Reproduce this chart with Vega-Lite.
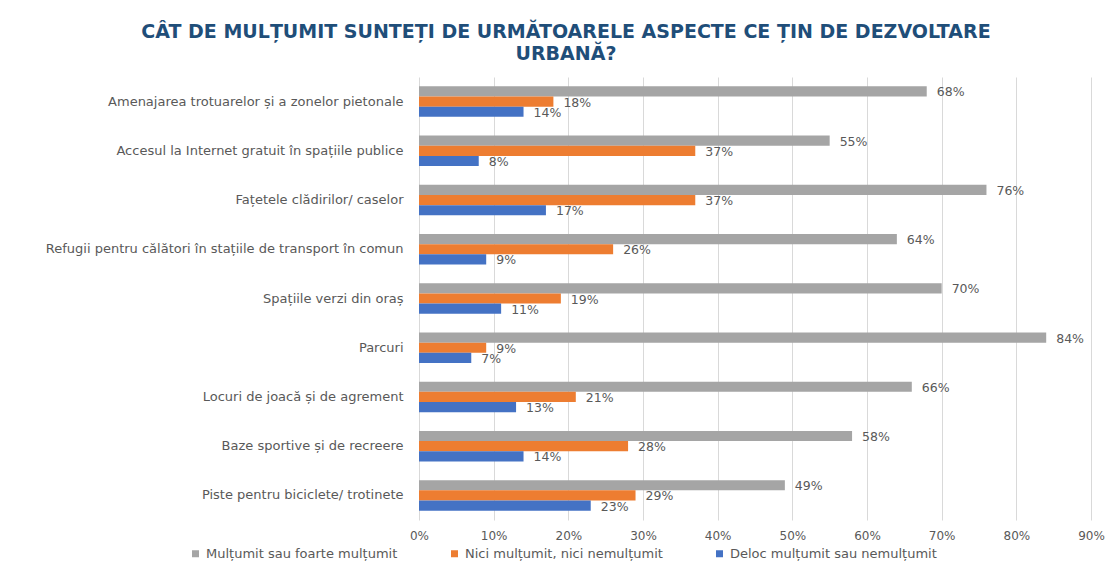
{
  "$schema": "https://vega.github.io/schema/vega-lite/v6.json",
  "autosize": {"type": "none"},
  "width": 672,
  "height": 443,
  "padding": {"left": 419, "top": 77, "right": 18, "bottom": 49},
  "background": "white",
  "config": {
    "view": {"stroke": null},
    "font": "DejaVu Sans"
  },
  "title": {
    "text": ["CÂT DE MULȚUMIT SUNTEȚI DE URMĂTOARELE ASPECTE CE ȚIN DE DEZVOLTARE", "URBANĂ?"],
    "anchor": "middle",
    "frame": "group",
    "dx": -189,
    "offset": 13,
    "fontSize": 19,
    "font": "DejaVu Sans",
    "fontWeight": "bold",
    "color": "#1F4E79",
    "lineHeight": 22
  },
  "data": {
    "values": [
      {"aspect": "Amenajarea trotuarelor și a zonelor pietonale", "series": "Mulțumit sau foarte mulțumit", "value": 0.68},
      {"aspect": "Amenajarea trotuarelor și a zonelor pietonale", "series": "Nici mulțumit, nici nemulțumit", "value": 0.18},
      {"aspect": "Amenajarea trotuarelor și a zonelor pietonale", "series": "Deloc mulțumit sau nemulțumit", "value": 0.14},
      {"aspect": "Accesul la Internet gratuit în spațiile publice", "series": "Mulțumit sau foarte mulțumit", "value": 0.55},
      {"aspect": "Accesul la Internet gratuit în spațiile publice", "series": "Nici mulțumit, nici nemulțumit", "value": 0.37},
      {"aspect": "Accesul la Internet gratuit în spațiile publice", "series": "Deloc mulțumit sau nemulțumit", "value": 0.08},
      {"aspect": "Fațetele clădirilor/ caselor", "series": "Mulțumit sau foarte mulțumit", "value": 0.76},
      {"aspect": "Fațetele clădirilor/ caselor", "series": "Nici mulțumit, nici nemulțumit", "value": 0.37},
      {"aspect": "Fațetele clădirilor/ caselor", "series": "Deloc mulțumit sau nemulțumit", "value": 0.17},
      {"aspect": "Refugii pentru călători în stațiile de transport în comun", "series": "Mulțumit sau foarte mulțumit", "value": 0.64},
      {"aspect": "Refugii pentru călători în stațiile de transport în comun", "series": "Nici mulțumit, nici nemulțumit", "value": 0.26},
      {"aspect": "Refugii pentru călători în stațiile de transport în comun", "series": "Deloc mulțumit sau nemulțumit", "value": 0.09},
      {"aspect": "Spațiile verzi din oraș", "series": "Mulțumit sau foarte mulțumit", "value": 0.70},
      {"aspect": "Spațiile verzi din oraș", "series": "Nici mulțumit, nici nemulțumit", "value": 0.19},
      {"aspect": "Spațiile verzi din oraș", "series": "Deloc mulțumit sau nemulțumit", "value": 0.11},
      {"aspect": "Parcuri", "series": "Mulțumit sau foarte mulțumit", "value": 0.84},
      {"aspect": "Parcuri", "series": "Nici mulțumit, nici nemulțumit", "value": 0.09},
      {"aspect": "Parcuri", "series": "Deloc mulțumit sau nemulțumit", "value": 0.07},
      {"aspect": "Locuri de joacă și de agrement", "series": "Mulțumit sau foarte mulțumit", "value": 0.66},
      {"aspect": "Locuri de joacă și de agrement", "series": "Nici mulțumit, nici nemulțumit", "value": 0.21},
      {"aspect": "Locuri de joacă și de agrement", "series": "Deloc mulțumit sau nemulțumit", "value": 0.13},
      {"aspect": "Baze sportive și de recreere", "series": "Mulțumit sau foarte mulțumit", "value": 0.58},
      {"aspect": "Baze sportive și de recreere", "series": "Nici mulțumit, nici nemulțumit", "value": 0.28},
      {"aspect": "Baze sportive și de recreere", "series": "Deloc mulțumit sau nemulțumit", "value": 0.14},
      {"aspect": "Piste pentru biciclete/ trotinete", "series": "Mulțumit sau foarte mulțumit", "value": 0.49},
      {"aspect": "Piste pentru biciclete/ trotinete", "series": "Nici mulțumit, nici nemulțumit", "value": 0.29},
      {"aspect": "Piste pentru biciclete/ trotinete", "series": "Deloc mulțumit sau nemulțumit", "value": 0.23}
    ]
  },
  "encoding": {
    "y": {
      "field": "aspect",
      "type": "nominal",
      "sort": null,
      "title": null,
      "scale": {"paddingInner": 0.38, "paddingOuter": 0.19},
      "axis": {
        "domain": false,
        "ticks": false,
        "labelPadding": 16,
        "labelFontSize": 13,
        "labelColor": "#595959",
        "labelFont": "DejaVu Sans",
        "labelLimit": 420
      }
    },
    "yOffset": {
      "field": "series",
      "type": "nominal",
      "sort": ["Mulțumit sau foarte mulțumit", "Nici mulțumit, nici nemulțumit", "Deloc mulțumit sau nemulțumit"]
    },
    "x": {
      "field": "value",
      "type": "quantitative",
      "title": null,
      "scale": {"domain": [0, 0.9], "nice": false},
      "axis": {
        "format": ".0%",
        "values": [0, 0.1, 0.2, 0.3, 0.4, 0.5, 0.6, 0.7, 0.8, 0.9],
        "labelOverlap": false,
        "labelFlush": false,
        "domain": false,
        "ticks": false,
        "grid": true,
        "gridColor": "#D9D9D9",
        "gridWidth": 1,
        "labelPadding": 10,
        "labelFontSize": 12,
        "labelColor": "#595959",
        "labelFont": "DejaVu Sans"
      }
    }
  },
  "layer": [
    {
      "mark": {"type": "bar", "cornerRadius": 0},
      "encoding": {
        "color": {
          "field": "series",
          "type": "nominal",
          "sort": ["Mulțumit sau foarte mulțumit", "Nici mulțumit, nici nemulțumit", "Deloc mulțumit sau nemulțumit"],
          "scale": {
            "domain": ["Mulțumit sau foarte mulțumit", "Nici mulțumit, nici nemulțumit", "Deloc mulțumit sau nemulțumit"],
            "range": ["#A5A5A5", "#ED7D31", "#4472C4"]
          },
          "legend": {
            "title": null,
            "orient": "none",
            "direction": "horizontal",
            "columns": 3,
            "legendX": -230,
            "legendY": 470,
            "symbolType": "square",
            "symbolSize": 49,
            "symbolStrokeWidth": 0,
            "labelFontSize": 13,
            "labelColor": "#595959",
            "labelFont": "DejaVu Sans",
            "columnPadding": 50,
            "labelOffset": 4,
            "labelLimit": 300
          }
        }
      }
    },
    {
      "mark": {"type": "text", "align": "left", "baseline": "middle", "dx": 10, "dy": 1, "fontSize": 12.5, "color": "#595959", "font": "DejaVu Sans"},
      "encoding": {
        "text": {"field": "value", "type": "quantitative", "format": ".0%"}
      }
    }
  ]
}
